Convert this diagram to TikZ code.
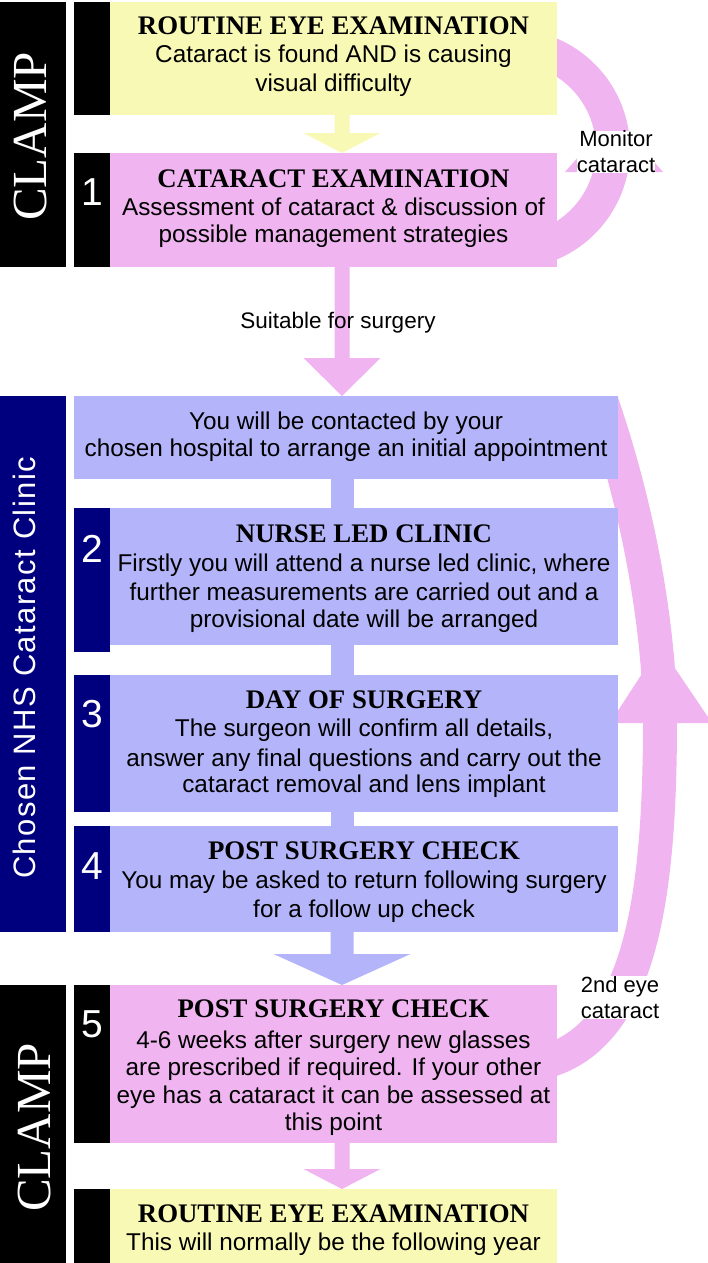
\documentclass[tikz,border=0pt]{standalone}
\usepackage{fontspec}
\setmainfont{Liberation Sans}
\newfontfamily\hdfont{Liberation Serif}
\newfontfamily\sidefont[LetterSpace=4.5]{Liberation Sans}
\usetikzlibrary{calc}
\definecolor{ylw}{HTML}{F9F9B6}
\definecolor{pnk}{HTML}{F0B4F0}
\definecolor{lav}{HTML}{B4B4FA}
\definecolor{nav}{HTML}{00007F}
\newcommand\blkarrow[6]{%
  \fill[#1] ($(#2)+(-#4,0)$) -- ($(#2)+(#4,0)$) -- ($(#3)+(#4,-#6)$) -- ($(#3)+(#5,-#6)$) -- (#3) -- ($(#3)+(-#5,-#6)$) -- ($(#3)+(-#4,-#6)$) -- cycle;}
\newcommand\blkbar[4]{%
  \fill[#1] ($(#2)+(-#4,0)$) rectangle ($(#3)+(#4,0)$);}
\tikzset{
  box/.style={rectangle, inner sep=0pt, outer sep=0pt, anchor=north west, draw=none},
  hd/.style={font=\hdfont\bfseries\fontsize{26.8}{28}\selectfont, anchor=base, inner sep=0pt},
  bd/.style={font=\fontsize{24.3}{28}\selectfont, anchor=base, inner sep=0pt},
  num/.style={font=\fontsize{39}{40}\selectfont, text=white, anchor=base, inner sep=0pt},
  lbl/.style={font=\fontsize{22}{26}\selectfont, inner sep=0pt, align=center},
  clamp/.style={font=\hdfont\fontsize{49}{50}\selectfont, text=white, rotate=90, inner sep=0pt},
  band/.style={draw=pnk, line width=34pt, line cap=butt}
}
\begin{document}
\begin{tikzpicture}[x=1pt,y=-1pt]
\useasboundingbox (0,0) rectangle (707,1263);
% ---- curved bands (drawn first, boxes cover their ends)
\draw[band] (545.2,245.8) .. controls (585.9,231.0) and (613,192.3) .. (613,149)
            .. controls (613,105.7) and (585.9,67.0) .. (545.2,52.2);
\fill[pnk] (565,172) -- (663,172) -- (614,116) -- cycle;
\begin{scope}
\clip (0,396) rectangle (707,1263);
\draw[band] (540,1063) .. controls (640,1040) and (660,900) .. (660,720)
            .. controls (660,640) and (642,515) .. (598,392);
\end{scope}
\fill[pnk] (610,723) -- (712,723) -- (660,646) -- cycle;
% ---- side bars
\node[box, fill=black, minimum width=66pt, minimum height=265pt] (clampA) at (0,2) {};
\node[box, fill=nav, minimum width=66pt, minimum height=536pt] (nhs) at (0,396) {};
\node[box, fill=black, minimum width=66pt, minimum height=278pt] (clampB) at (0,985) {};
\node[clamp] (clampAt) at (31,136.5) {CLAMP};
\node[clamp] (clampBt) at (35,1127.5) {CLAMP};
\node[font=\sidefont\fontsize{31}{32}\selectfont, text=white, rotate=90, inner sep=0pt] (nhst) at (24,668) {Chosen NHS Cataract Clinic};
% ---- number columns
\node[box, fill=black, minimum width=36pt, minimum height=113pt] (n0) at (74,2) {};
\node[box, fill=black, minimum width=36pt, minimum height=114pt] (n1) at (74,153) {};
\node[box, fill=nav, minimum width=36pt, minimum height=144pt] (n2) at (74,508) {};
\node[box, fill=nav, minimum width=36pt, minimum height=137pt] (n3) at (74,675) {};
\node[box, fill=nav, minimum width=36pt, minimum height=106pt] (n4) at (74,826) {};
\node[box, fill=black, minimum width=36pt, minimum height=158pt] (n5) at (74,985) {};
\node[box, fill=black, minimum width=36pt, minimum height=74pt] (n6) at (74,1189) {};
% ---- boxes
\node[box, fill=ylw, minimum width=447pt, minimum height=113pt] (yt) at (110,2) {};
\node[box, fill=pnk, minimum width=447pt, minimum height=114pt] (b1) at (110,153) {};
\node[box, fill=lav, minimum width=544pt, minimum height=83pt] (bc) at (74,396) {};
\node[box, fill=lav, minimum width=508pt, minimum height=137pt] (b2) at (110,508) {};
\node[box, fill=lav, minimum width=508pt, minimum height=137pt] (b3) at (110,675) {};
\node[box, fill=lav, minimum width=508pt, minimum height=106pt] (b4) at (110,826) {};
\node[box, fill=pnk, minimum width=447pt, minimum height=158pt] (b5) at (110,985) {};
\node[box, fill=ylw, minimum width=447pt, minimum height=74pt] (yb) at (110,1189) {};
% ---- straight connectors
\coordinate (ax) at (342,0);
\coordinate (a1s) at (yt.south -| ax); \coordinate (a1e) at (b1.north -| ax);
\coordinate (a2s) at (b1.south -| ax); \coordinate (a2e) at (bc.north -| ax);
\coordinate (a3s) at (bc.south -| ax); \coordinate (a3e) at (b2.north -| ax);
\coordinate (a4s) at (b2.south -| ax); \coordinate (a4e) at (b3.north -| ax);
\coordinate (a5s) at (b3.south -| ax); \coordinate (a5e) at (b4.north -| ax);
\coordinate (a6s) at (b4.south -| ax); \coordinate (a6e) at (b5.north -| ax);
\coordinate (a7s) at (b5.south -| ax); \coordinate (a7e) at (yb.north -| ax);
\blkarrow{ylw}{a1s}{a1e}{7.5}{38.5}{20}
\blkarrow{pnk}{a2s}{a2e}{7.5}{38.5}{38}
\blkbar{lav}{a3s}{a3e}{11.5}
\blkbar{lav}{a4s}{a4e}{11.5}
\blkbar{lav}{a5s}{a5e}{11.5}
\blkarrow{lav}{a6s}{a6e}{11.5}{68.5}{31}
\blkarrow{pnk}{a7s}{a7e}{7.5}{38.5}{20}
% ---- labels
\node[lbl, font=\fontsize{22.5}{26}\selectfont, anchor=base] (suit) at (338,328) {Suitable for surgery};
\node[lbl, fill=white] (mon) at (616,152) {Monitor\\cataract};
\node[lbl, fill=white] (sec) at (620,997.5) {2nd eye\\cataract};
% ---- numbers
\node[num] (k1) at (92,205) {1};
\node[num] (k2) at (92,562) {2};
\node[num] (k3) at (92,727) {3};
\node[num] (k4) at (92,879) {4};
\node[num] (k5) at (92,1037) {5};
% ---- box texts
\node[hd] (t0h) at (333.5,35) {ROUTINE EYE EXAMINATION};
\node[bd] (t0a) at (333.5,63) {Cataract is found AND is causing};
\node[bd] (t0b) at (333.5,92) {visual difficulty};
\node[hd] (t1h) at (333.5,187) {CATARACT EXAMINATION};
\node[bd] (t1a) at (333.5,215) {Assessment of cataract \& discussion of};
\node[bd] (t1b) at (333.5,242) {possible management strategies};
\node[bd] (tca) at (346,429) {You will be contacted by your};
\node[bd] (tcb) at (346,456) {chosen hospital to arrange an initial appointment};
\node[hd] (t2h) at (364,542) {NURSE LED CLINIC};
\node[bd] (t2a) at (364,571) {Firstly you will attend a nurse led clinic, where};
\node[bd] (t2b) at (364,600) {further measurements are carried out and a};
\node[bd] (t2c) at (364,627) {provisional date will be arranged};
\node[hd] (t3h) at (364,708) {DAY OF SURGERY};
\node[bd] (t3a) at (364,736) {The surgeon will confirm all details,};
\node[bd] (t3b) at (364,766) {answer any final questions and carry out the};
\node[bd] (t3c) at (364,792) {cataract removal and lens implant};
\node[hd] (t4h) at (364,859) {POST SURGERY CHECK};
\node[bd] (t4a) at (364,888) {You may be asked to return following surgery};
\node[bd] (t4b) at (364,917) {for a follow up check};
\node[hd] (t5h) at (333.5,1017) {POST SURGERY CHECK};
\node[bd] (t5a) at (333.5,1048) {4-6 weeks after surgery new glasses};
\node[bd] (t5b) at (333.5,1075) {are prescribed if required. If your other};
\node[bd] (t5c) at (333.5,1103) {eye has a cataract it can be assessed at};
\node[bd] (t5d) at (333.5,1130) {this point};
\node[hd] (t6h) at (333.5,1222) {ROUTINE EYE EXAMINATION};
\node[bd] (t6a) at (333.5,1250) {This will normally be the following year};
\end{tikzpicture}
\end{document}
